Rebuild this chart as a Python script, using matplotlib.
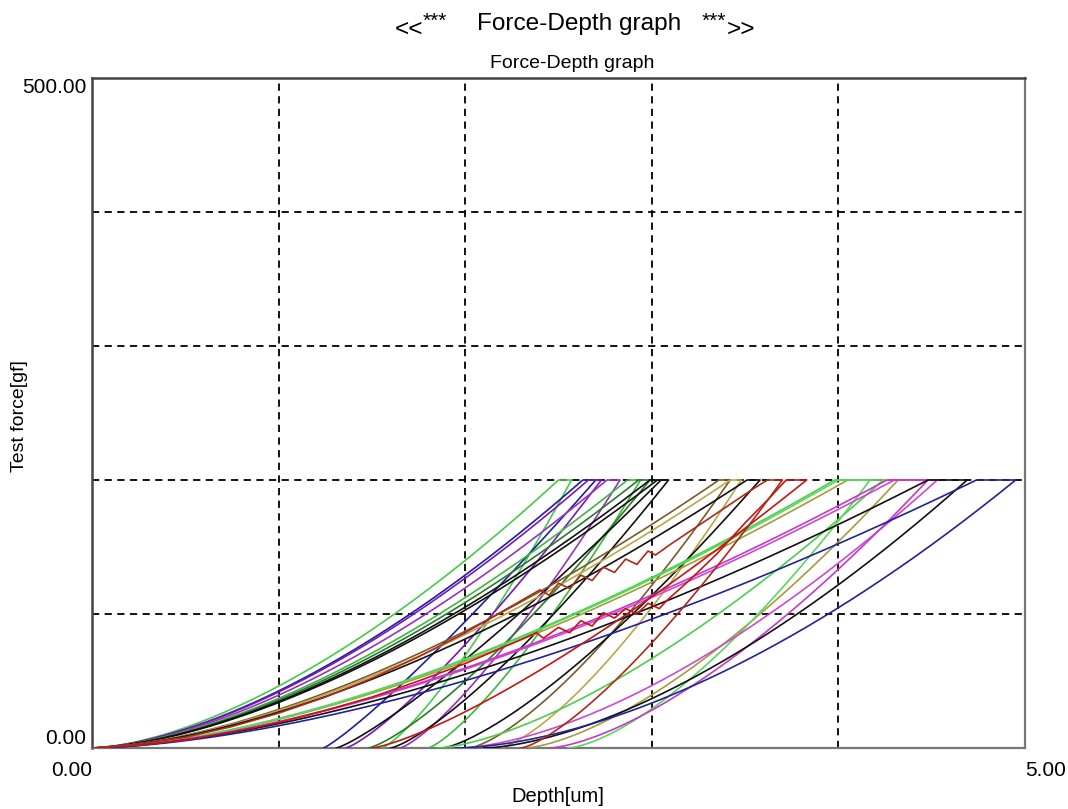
import numpy as np
import matplotlib
matplotlib.use('Agg')
import matplotlib.pyplot as plt

# ---------------- data ----------------
F_MAX = 200.0  # peak test force [gf]

# regular tests: depth where loading reaches F_MAX, depth after hold, residual depth
TEST_COLORS = ['#44cc44', '#1f1f9f', '#7a18b8', '#9b30c0', '#3cb83c', '#2a7a2a',
               '#111111', '#111111', '#7a5a28', '#b8a848', '#111111', '#a89a40',
               '#48d048', '#5ad85a', '#d048d0', '#c838c8', '#111111', '#22229a']
LOAD_END = [2.50, 2.63, 2.66, 2.76, 2.87, 2.93, 2.99, 3.03, 3.36, 3.42, 3.51,
            4.05, 3.98, 4.00, 4.30, 4.26, 4.48, 4.74]
HOLD_END = [2.57, 2.70, 2.73, 2.83, 2.94, 2.99, 3.05, 3.09, 3.42, 3.48, 3.58,
            4.32, 4.24, 4.17, 4.53, 4.48, 4.69, 4.95]
RESIDUAL = [1.55, 1.24, 1.36, 1.65, 1.80, 1.48, 1.31, 1.60, 2.02, 2.18, 1.88,
            2.32, 1.85, 2.55, 1.97, 2.45, 2.10, 1.95]
LOAD_EXP = [1.6] * 18
UNLOAD_EXP = [1.3, 1.15, 1.25, 1.3, 1.3, 1.3, 1.2, 1.3, 1.4, 1.4, 1.35,
              1.5, 1.5, 1.5, 1.6, 1.5, 1.6, 1.7]

# two tests with pop-in serrations on loading (explicit points)
SER_COLORS = ['#c81414', '#b02818']
SER_DEPTH = [
    [0, 0.25, 0.5, 0.75, 1.0, 1.25, 1.5, 1.75, 2.0, 2.2, 2.3, 2.38, 2.42, 2.5, 2.56,
     2.62, 2.68, 2.74, 2.8, 2.86, 2.92, 2.98, 3.04, 3.08, 3.2, 3.35, 3.5, 3.62, 3.72],
    [0, 0.25, 0.5, 0.75, 1.0, 1.25, 1.5, 1.75, 2.0, 2.2, 2.4, 2.45, 2.5, 2.56, 2.62,
     2.68, 2.74, 2.8, 2.86, 2.92, 2.98, 3.02, 3.1, 3.25, 3.4, 3.55, 3.62],
]
SER_FORCE = [
    [0, 2, 6, 12, 19, 28, 38, 50, 63, 75, 81, 86, 82, 90, 86,
     95, 91, 101, 97, 104, 100, 108, 104, 110, 125, 145, 168, 185, 200],
    [0, 3, 8, 16, 26, 38, 52, 68, 86, 102, 118, 114, 123, 119, 129,
     125, 135, 131, 141, 137, 147, 144, 152, 166, 180, 194, 200],
]
SER_HOLD_END = [3.83, 3.70]
SER_RESIDUAL = [1.50, 2.30]
SER_UNLOAD_EXP = [1.3, 1.35]

X_TICKS = [0, 1, 2, 3, 4, 5]
X_TICK_LABELS = ['0.00', '', '', '', '', '5.00']
Y_TICKS = [0, 100, 200, 300, 400, 500]
Y_TICK_LABELS = ['0.00', '', '', '', '', '500.00']

# ---------------- figure ----------------
plt.rcParams['font.family'] = ['Liberation Sans', 'DejaVu Sans']
W, H = 1068, 809
fig = plt.figure(figsize=(W / 100, H / 100), dpi=100)
ax = fig.add_axes([92 / W, 1 - 748 / H, (1025 - 92) / W, (748 - 78) / H])


def unload_curve(hm, hr, m, n=200):
    h = np.linspace(hm, hr, n)
    f = F_MAX * ((h - hr) / (hm - hr)) ** m
    return h, f


for c, hl, hm, hr, ml, mu in zip(TEST_COLORS, LOAD_END, HOLD_END, RESIDUAL,
                                 LOAD_EXP, UNLOAD_EXP):
    h1 = np.linspace(0, hl, 200)
    f1 = F_MAX * (h1 / hl) ** ml
    h3, f3 = unload_curve(hm, hr, mu)
    h = np.concatenate([h1, [hm], h3])
    f = np.concatenate([f1, [F_MAX], f3])
    ax.plot(h, f, color=c, lw=1.2, zorder=3)

for c, dep, frc, hm, hr, mu in zip(SER_COLORS, SER_DEPTH, SER_FORCE,
                                   SER_HOLD_END, SER_RESIDUAL, SER_UNLOAD_EXP):
    h3, f3 = unload_curve(hm, hr, mu)
    h = np.concatenate([dep, [hm], h3])
    f = np.concatenate([frc, [F_MAX], f3])
    ax.plot(h, f, color=c, lw=1.2, zorder=3)

ax.set_xlim(0, 5)
ax.set_ylim(0, 500)
ax.set_xticks(X_TICKS)
ax.set_xticklabels(X_TICK_LABELS, fontsize=15)
ax.set_yticks(Y_TICKS)
ax.set_yticklabels(Y_TICK_LABELS, fontsize=15)
ax.tick_params(axis='both', length=0)
ax.tick_params(axis='x', pad=9.5)
ax.tick_params(axis='y', pad=4)
xl = ax.get_xticklabels()
xl[0].set_ha('right')
xl[-1].set_ha('left')
yl = ax.get_yticklabels()
yl[0].set_va('bottom')
yl[-1].set_va('top')
yl[-1].set_y(497)

ax.grid(True, ls=(0, (4, 3)), color='black', lw=1.3, zorder=2)
ax.set_axisbelow(True)
for side in ['left', 'top']:
    ax.spines[side].set_color('#444444')
    ax.spines[side].set_linewidth(1.8)
for side in ['right', 'bottom']:
    ax.spines[side].set_color('#777777')
    ax.spines[side].set_linewidth(1.6)


def fx(px):
    return px / W


def fy(py):
    return 1 - py / H


# title pieces
fig.text(fx(395), fy(36), '<<', fontsize=17.5, va='baseline', ha='left')
fig.text(fx(423), fy(27), '***', fontsize=15, va='baseline', ha='left')
fig.text(fx(477), fy(30), 'Force-Depth graph', fontsize=17.6, va='baseline', ha='left')
fig.text(fx(702), fy(27), '***', fontsize=15, va='baseline', ha='left')
fig.text(fx(727), fy(36), '>>', fontsize=17.5, va='baseline', ha='left')
fig.text(fx(490), fy(68), 'Force-Depth graph', fontsize=14, va='baseline', ha='left')

fig.text(fx(20), fy(416), 'Test force[gf]', fontsize=14, rotation=90,
         ha='center', va='center')
fig.text(fx(558), fy(796), 'Depth[um]', fontsize=14.5, ha='center', va='center')

fig.savefig('out.png', dpi=100)
